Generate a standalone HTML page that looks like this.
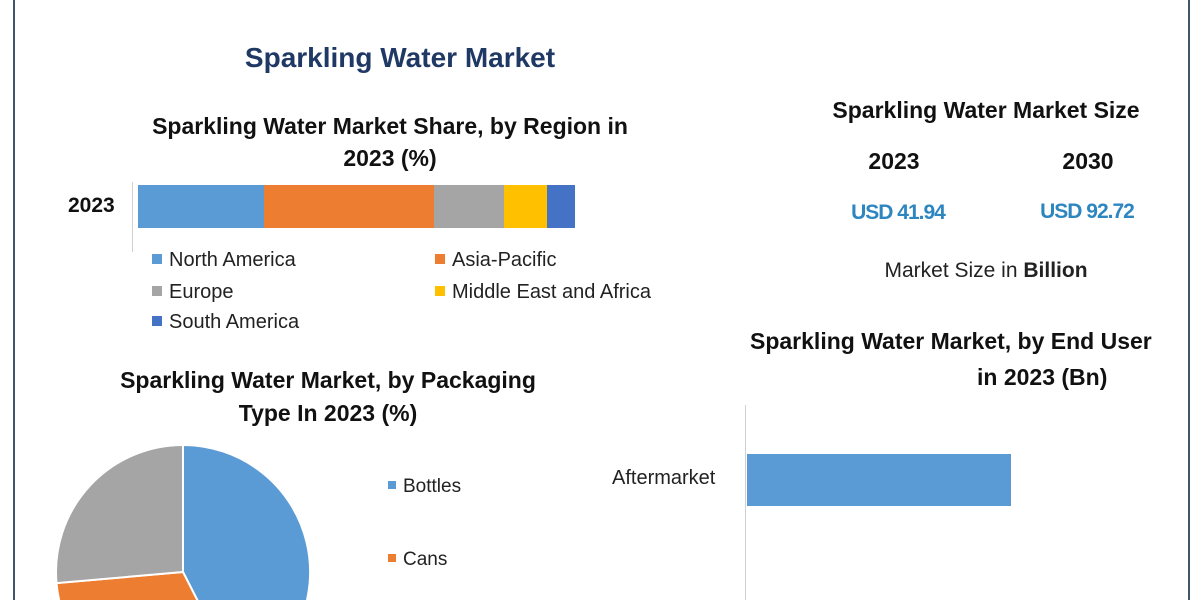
<!DOCTYPE html>
<html><head><meta charset="utf-8"><style>
html,body{margin:0;padding:0;background:#fff;width:1200px;height:600px;overflow:hidden;}
body{position:relative;font-family:"Liberation Sans",sans-serif;}
.t{position:absolute;white-space:nowrap;}
.b{font-weight:bold;color:#111;}
.c{text-align:center;transform:translateX(-50%);}
.leg{position:absolute;font-size:20px;color:#222;white-space:nowrap;font-family:"Liberation Sans",sans-serif;}
.sq{display:inline-block;width:10px;height:10px;margin-right:7px;vertical-align:middle;position:relative;top:-2px;}
</style></head><body>
<div style="position:absolute;left:13px;top:0;width:2px;height:600px;background:#3f5668;"></div>
<div style="position:absolute;left:1188px;top:0;width:2px;height:600px;background:#3f5668;"></div>
<div class="t c" style="left:400px;top:42px;font-size:28px;font-weight:bold;color:#1f3864;">Sparkling Water Market</div>
<div class="t c b" style="left:390px;top:110px;font-size:23px;line-height:32px;">Sparkling Water Market Share, by Region in<br>2023 (%)</div>
<div class="t b" style="left:68px;top:194px;font-size:21px;">2023</div>
<div style="position:absolute;left:132px;top:182px;width:1px;height:70px;background:#d0d0d0;"></div>
<div style="position:absolute;top:185px;height:43px;left:138px;width:126px;background:#5b9bd5;"></div>
<div style="position:absolute;top:185px;height:43px;left:264px;width:170px;background:#ed7d31;"></div>
<div style="position:absolute;top:185px;height:43px;left:434px;width:70px;background:#a5a5a5;"></div>
<div style="position:absolute;top:185px;height:43px;left:504px;width:43px;background:#ffc000;"></div>
<div style="position:absolute;top:185px;height:43px;left:547px;width:28px;background:#4472c4;"></div>
<div class="leg" style="left:152px;top:249px;"><span class="sq" style="background:#5b9bd5"></span>North America</div>
<div class="leg" style="left:435px;top:249px;"><span class="sq" style="background:#ed7d31"></span>Asia-Pacific</div>
<div class="leg" style="left:152px;top:281px;"><span class="sq" style="background:#a5a5a5"></span>Europe</div>
<div class="leg" style="left:435px;top:281px;"><span class="sq" style="background:#ffc000"></span>Middle East and Africa</div>
<div class="leg" style="left:152px;top:311px;"><span class="sq" style="background:#4472c4"></span>South America</div>
<div class="t c b" style="left:328px;top:364px;font-size:23px;line-height:33px;">Sparkling Water Market, by Packaging<br>Type In 2023 (%)</div>
<svg style="position:absolute;left:0;top:0" width="1200" height="600">
<path d="M183,572 L183,445 A127,127 0 0 1 240.7,685.2 Z" fill="#5b9bd5" stroke="#fff" stroke-width="2"/>
<path d="M183,572 L240.7,685.2 A127,127 0 0 1 56.5,583.1 Z" fill="#ed7d31" stroke="#fff" stroke-width="2"/>
<path d="M183,572 L56.5,583.1 A127,127 0 0 1 183,445 Z" fill="#a5a5a5" stroke="#fff" stroke-width="2"/>
<line x1="745.5" y1="405" x2="745.5" y2="600" stroke="#d0d0d0" stroke-width="1"/>
</svg>
<div class="leg" style="left:388px;top:476px;font-size:19px;"><span class="sq" style="background:#5b9bd5;width:8px;height:8px"></span>Bottles</div>
<div class="leg" style="left:388px;top:549px;font-size:19px;"><span class="sq" style="background:#ed7d31;width:8px;height:8px"></span>Cans</div>
<div class="t c b" style="left:986px;top:97px;font-size:23px;">Sparkling Water Market Size</div>
<div class="t c b" style="left:894px;top:148px;font-size:23px;">2023</div>
<div class="t c b" style="left:1088px;top:148px;font-size:23px;">2030</div>
<div class="t c" style="left:898px;top:201px;font-size:21px;font-weight:bold;color:#2e86c1;letter-spacing:-1px;">USD 41.94</div>
<div class="t c" style="left:1087px;top:200px;font-size:21px;font-weight:bold;color:#2e86c1;letter-spacing:-1px;">USD 92.72</div>
<div class="t c" style="left:986px;top:259px;font-size:21px;color:#222;">Market Size in <b>Billion</b></div>
<div class="t b" style="left:750px;top:328px;font-size:23px;">Sparkling Water Market, by End User</div>
<div class="t b" style="left:977px;top:364px;font-size:23px;">in 2023 (Bn)</div>
<div style="position:absolute;left:747px;top:454px;width:264px;height:52px;background:#5b9bd5;"></div>
<div class="t" style="left:612px;top:467px;font-size:20px;color:#222;font-family:'Liberation Sans',sans-serif;">Aftermarket</div>
</body></html>
